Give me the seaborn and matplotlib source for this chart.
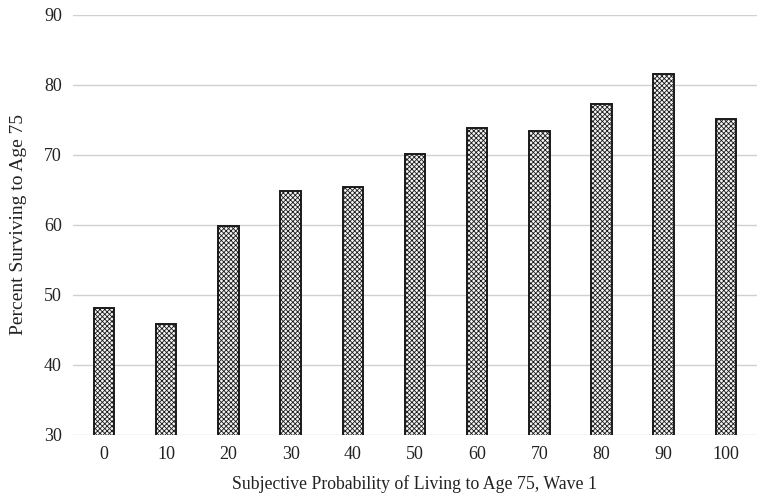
import pandas as pd
import seaborn as sns
import matplotlib.pyplot as plt

categories = ['0', '10', '20', '30', '40', '50', '60', '70', '80', '90', '100']
survival = [48.1, 45.8, 59.9, 64.9, 65.4, 70.2, 73.8, 73.4, 77.3, 81.6, 75.1]

df = pd.DataFrame({'prob': categories, 'pct': survival})

sns.set_style('white')
plt.rcParams['font.family'] = ['Liberation Serif', 'DejaVu Serif']
plt.rcParams['hatch.linewidth'] = 0.6
plt.rcParams['hatch.color'] = '#444444'

fig = plt.figure(figsize=(7.6, 4.96), dpi=100)
ax = fig.add_axes([0.096, 0.123, 0.9, 0.847])

ax.yaxis.grid(True, color='#d0d0d0', linewidth=1)
ax.set_axisbelow(True)
sns.barplot(data=df, x='prob', y='pct', ax=ax, color='#f4f4f4', width=0.33,
            edgecolor='#1a1a1a', linewidth=1.4, hatch='xxxxxxx')

ax.set_ylim(30, 90)
ax.set_yticks(range(30, 91, 10))
ax.set_xlim(-0.5, 10.5)
sns.despine(ax=ax, left=True, bottom=True, top=True, right=True)
ax.tick_params(axis='both', length=0, labelsize=13, colors='#222222', pad=8)
ax.set_xlabel('Subjective Probability of Living to Age 75, Wave 1', fontsize=12.8, color='#222222', labelpad=9)
ax.set_ylabel('Percent Surviving to Age 75', fontsize=14, color='#222222', labelpad=12)

fig.savefig('out.png', dpi=100)
